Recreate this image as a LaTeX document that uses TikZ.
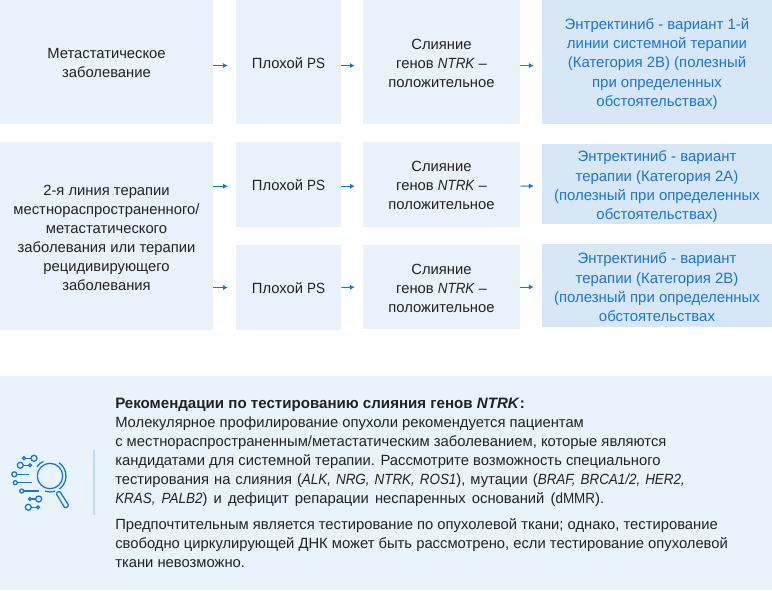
\documentclass[tikz,border=0pt]{standalone}
\usepackage{fontspec}
\setmainfont{Liberation Sans}
\newfontfamily\latf[FakeStretch=0.91]{Liberation Sans}
\usetikzlibrary{arrows.meta,calc}
\definecolor{boxA}{HTML}{E9F2FA}
\definecolor{boxB}{HTML}{D8E7F6}
\definecolor{txtB}{HTML}{1A75D2}
\definecolor{txtK}{HTML}{222222}
\definecolor{panel}{HTML}{E9F3FB}
\definecolor{rule}{HTML}{BFDAF3}
\newcommand{\fs}{\fontsize{11.08pt}{14.25pt}\selectfont}
\newcommand{\fb}{\fontsize{11.2pt}{14.55pt}\selectfont}
\newcommand{\lat}[1]{{\latf #1}}
\newcommand{\lati}[1]{{\latf\itshape #1}}
\newcommand{\sd}[1]{\rule{0pt}{#1pt}}
\newcommand{\wsp}[2]{{\spaceskip=#1 #2}}
\tikzset{x=0.75pt,y=-0.75pt,
 flowbox/.style={fill=boxA,draw=none,inner sep=0pt,minimum width=#1*0.75pt,align=center,text=txtK,font=\fs},
 resbox/.style={fill=boxB,draw=none,inner sep=0pt,minimum width=230*0.75pt,align=center,text=txtB,font=\fb},
 arr/.style={draw=txtB,line width=0.75pt,-{Latex[length=3.6pt,width=4pt]},shorten >=6pt},
 ico/.style={draw=txtB,line width=0.95pt,fill=none},
 para/.style={anchor=north west,inner sep=0pt,text=txtK,align=left,font=\fs}}
\begin{document}
\begin{tikzpicture}
\useasboundingbox (0,0) rectangle (772,590);
\fill[panel] (0,376) rectangle (772,590);
% row 1
\node[flowbox=213,minimum height=93pt] (a1) at (106.5,62) {\sd{9.6}Метастатическое\\заболевание};
\node[flowbox=105,minimum height=93pt] (b1) at (288.5,62) {\sd{9.6}Плохой \lat{PS}};
\node[flowbox=157,minimum height=93pt] (c1) at (441.5,62) {\sd{9.6}Слияние\\генов \lati{NTRK} –\\положительное};
\node[resbox,minimum height=93pt] (d1) at (657,62) {\sd{11.1}Энтректиниб - вариант 1-й\\линии системной терапии\\(Категория 2B) (полезный\\при определенных\\обстоятельствах)};
% left of rows 2-3
\node[flowbox=213,minimum height=141pt] (a2) at (106.5,236) {\sd{10.4}2-я линия терапии\\местнораспространенного/\\метастатического\\заболевания или терапии\\рецидивирующего\\заболевания};
% row 2
\node[flowbox=105,minimum height=63.75pt] (b2) at (288.5,184.5) {\sd{9.6}Плохой \lat{PS}};
\node[flowbox=157,minimum height=63.75pt] (c2) at (441.5,184.5) {\sd{9.6}Слияние\\генов \lati{NTRK} –\\положительное};
\node[resbox,minimum height=60pt] (d2) at (657,184) {\sd{12.6}Энтректиниб - вариант\\терапии (Категория 2А)\\(полезный при определенных\\обстоятельствах)};
% row 3
\node[flowbox=105,minimum height=63.75pt] (b3) at (288.5,287.5) {\sd{9.6}Плохой \lat{PS}};
\node[flowbox=157,minimum height=63pt] (c3) at (441.5,287) {\sd{9.6}Слияние\\генов \lati{NTRK} –\\положительное};
\node[resbox,minimum height=62.25pt] (d3) at (657,285.5) {\sd{11.1}Энтректиниб - вариант\\терапии (Категория 2B)\\(полезный при определенных\\обстоятельствах};
% connectors
\draw[arr] ([yshift=-2.7pt]a1.east) -- ([yshift=-2.7pt]b1.west);
\draw[arr] ([yshift=-2.7pt]b1.east) -- ([yshift=-2.7pt]c1.west);
\draw[arr] ([yshift=-2.7pt]c1.east) -- ([yshift=-2.7pt]d1.west);
\draw[arr] ([yshift=-1.3pt]a2.east |- b2.west) -- ([yshift=-1.3pt]b2.west);
\draw[arr] ([yshift=-1.3pt]b2.east) -- ([yshift=-1.3pt]c2.west);
\draw[arr] ([yshift=-1.3pt]c2.east) -- ([yshift=-1.3pt]d2.west);
\draw[arr] (a2.east |- b3.west) -- (b3.west);
\draw[arr] (b3.east) -- (c3.west);
\draw[arr] (c3.east) -- (c3.east -| d3.west);
% panel text
\node[para] (t1) at (115,398) {{\fontsize{11.32pt}{14.25pt}\selectfont\textbf{Рекомендации по тестированию слияния генов \textit{NTRK}:}}\\Молекулярное профилирование опухоли рекомендуется пациентам\\с местнораспространенным/метастатическим заболеванием, которые являются\\кандидатами для системной терапии. Рассмотрите возможность специального\\\wsp{3.7pt}{тестирования на слияния (\lati{ALK, NRG, NTRK, ROS1}), мутации (\lati{BRAF, BRCA1/2, HER2,}}\\\wsp{4.6pt}{\lati{KRAS, PALB2}) и дефицит репарации неспаренных оснований (\lat{dMMR}).}};
\node[para] (t2) at (115,518) {Предпочтительным является тестирование по опухолевой ткани; однако, тестирование\\свободно циркулирующей ДНК может быть рассмотрено, если тестирование опухолевой\\ткани невозможно.};
% icon
\draw[rule,line width=0.9pt] (94,450) -- (94,515);
\coordinate (m) at (50,476);
\draw[ico] (m) circle (12.7);
\draw[ico] ($(m)+(-145:16)$) arc[start angle=-145,end angle=-114,radius=16];
\draw[ico] ($(m)+(-56:16)$) arc[start angle=-56,end angle=54,radius=16];
\draw[ico] ($(m)+(108:16)$) arc[start angle=108,end angle=72,radius=16];
\draw[ico,rounded corners=1pt] (56,493.3) -- (59.3,490.7) -- (69,505.7) -- (65,508.3) -- cycle;
\draw[ico] (34,458.3) circle (3); \draw[ico] (24,458.3) circle (1.5); \draw[ico] (25.5,458.3) -- (31,458.3);
\draw[ico] (20.3,465.3) circle (3); \draw[ico] (30,465.3) circle (1.5); \draw[ico] (23.3,465.3) -- (28.5,465.3);
\draw[ico] (14.3,474.3) circle (2.5); \draw[ico] (16.8,474.3) -- (29.3,474.3);
\draw[ico] (15.3,482.7) circle (2); \draw[ico] (17.3,482.7) -- (31.7,482.7);
\draw[ico] (21.7,491) circle (2); \draw[ico] (23.7,491) -- (39.3,491);
\draw[ico] (38.7,499) circle (3); \draw[ico] (30,499) circle (1.5); \draw[ico] (31.5,499) -- (35.7,499);
\draw[ico] (28.3,507.3) circle (3); \draw[ico] (38,507.3) circle (1.5); \draw[ico] (31.3,507.3) -- (36.5,507.3);
\end{tikzpicture}
\end{document}
